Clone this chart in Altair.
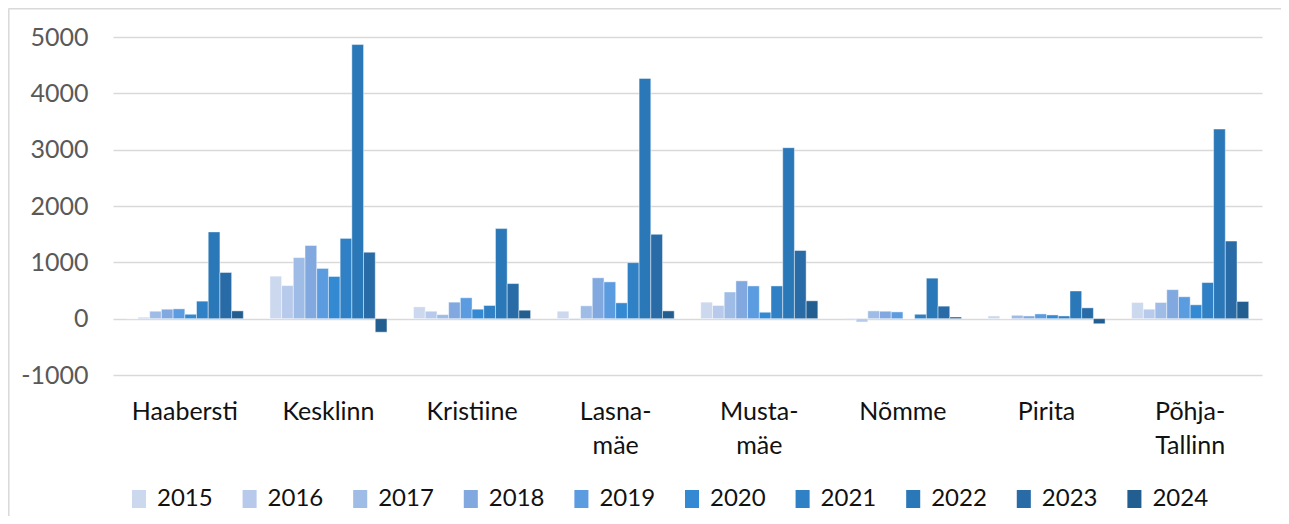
import altair as alt
import pandas as pd

districts = ["Haabersti", "Kesklinn", "Kristiine", "Lasna-mäe", "Musta-mäe",
             "Nõmme", "Pirita", "Põhja-Tallinn"]
years = ["2015", "2016", "2017", "2018", "2019", "2020", "2021", "2022", "2023", "2024"]

v2015 = [0, 754, 210, 132, 293, 10, 48, 287]
v2016 = [24, 587, 132, -25, 234, -60, 0, 168]
v2017 = [132, 1084, 72, 228, 473, 138, 60, 287]
v2018 = [168, 1299, 293, 725, 671, 132, 48, 515]
v2019 = [174, 892, 371, 653, 581, 120, 84, 389]
v2020 = [78, 749, 168, 281, 114, 0, 66, 246]
v2021 = [311, 1425, 234, 994, 581, 78, 48, 641]
v2022 = [1540, 4866, 1599, 4265, 3035, 719, 491, 3366]
v2023 = [820, 1180, 623, 1497, 1210, 222, 192, 1377]
v2024 = [138, -240, 150, 138, 317, 30, -90, 305]

series = [v2015, v2016, v2017, v2018, v2019, v2020, v2021, v2022, v2023, v2024]
colors = ["#CBD8EE", "#B7CAEB", "#9EBCE6", "#81A9DF", "#5B9BDF",
          "#338AD3", "#2F80C4", "#2B78B8", "#286BA6", "#235E91"]
y_ticks = [-1000, 0, 1000, 2000, 3000, 4000, 5000]

rows = []
for yr, vals in zip(years, series):
    for d, v in zip(districts, vals):
        rows.append({"district": d, "year": yr, "value": v})
df = pd.DataFrame(rows)

FONT = "Lato"
W, H = 1149, 338
PL, PT, PR, PB = 105, 29, 19, 141

bars = alt.Chart(df).mark_bar(stroke="white", strokeWidth=0.8, strokeOpacity=0.55).encode(
    x=alt.X("district:N", sort=districts, title=None,
            scale=alt.Scale(paddingInner=0.185, paddingOuter=0.0925),
            axis=alt.Axis(domain=False, ticks=False, labelAngle=0, labelFont=FONT,
                          labelFontSize=25, labelColor="#111111", labelPadding=24,
                          labelLineHeight=34,
                          labelExpr="split(replace(datum.label, '-', '-|'), '|')")),
    xOffset=alt.XOffset("year:N", sort=years, scale=alt.Scale(paddingInner=0, paddingOuter=0)),
    y=alt.Y("value:Q", title=None,
            scale=alt.Scale(domain=[-1000, 5000], nice=False, zero=False),
            axis=alt.Axis(values=y_ticks, labelExpr="'' + datum.value", domain=False,
                          ticks=False, grid=True, gridColor="#D9D9D9", gridWidth=1.5,
                          labelFont=FONT, labelFontSize=25, labelColor="#595959",
                          labelPadding=25)),
    color=alt.Color("year:N", sort=years, scale=alt.Scale(domain=years, range=colors),
                    legend=alt.Legend(title=None, orient="none", direction="horizontal",
                                      legendX=14, legendY=450, columns=10,
                                      symbolType="M-0.78,-1H0.78V1H-0.78Z",
                                      symbolSize=324, symbolStrokeWidth=0,
                                      labelFont=FONT, labelFontSize=24,
                                      labelColor="#111111", labelOffset=6,
                                      columnPadding=24.6, padding=0)),
)

border_df = pd.DataFrame({"k": [0]})
top_border = alt.Chart(border_df).mark_rule(color="#D9D9D9", strokeWidth=1.5).encode(
    x=alt.value(-PL + 0.5), x2=alt.value(W + PR), y=alt.value(-PT + 0.8))
left_border = alt.Chart(border_df).mark_rule(color="#D9D9D9", strokeWidth=1.5).encode(
    x=alt.value(-PL + 0.8), y=alt.value(-PT + 0.5), y2=alt.value(H + PB))

chart = alt.layer(bars, top_border, left_border).properties(
    width=W, height=H,
    autosize=alt.AutoSizeParams(type="none"),
    padding={"left": PL, "top": PT, "right": PR, "bottom": PB},
).configure_view(stroke=None)

chart.save("out.html", embed_options={"renderer": "svg", "actions": False})
